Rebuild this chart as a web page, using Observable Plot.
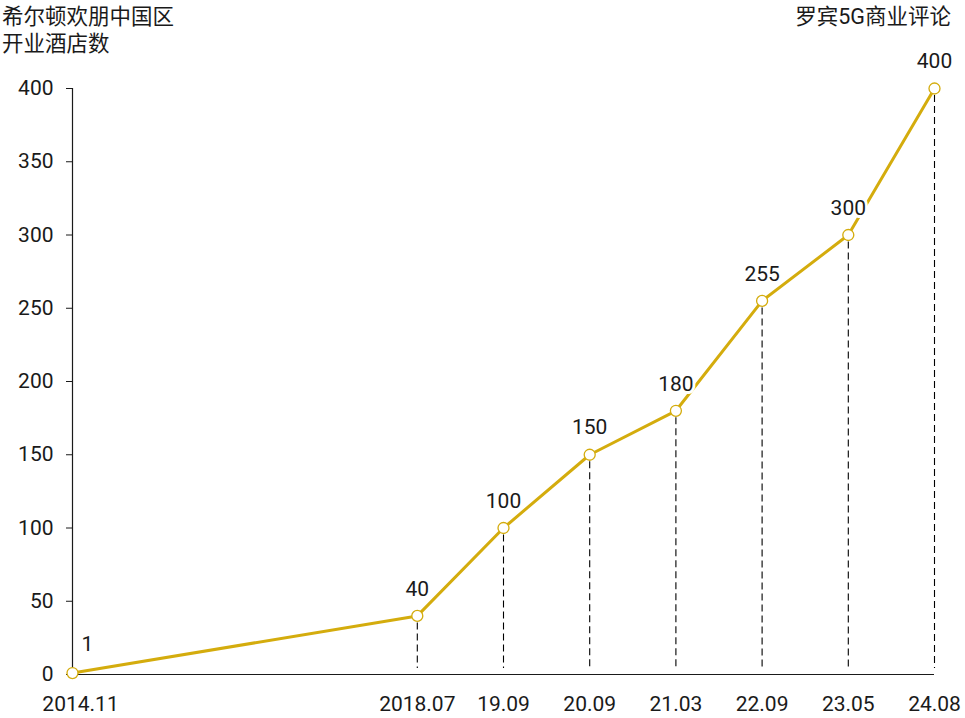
<!DOCTYPE html>
<html>
<head>
<meta charset="utf-8">
<script src="https://cdn.jsdelivr.net/npm/d3@7"></script>
<script src="https://cdn.jsdelivr.net/npm/@observablehq/plot@0.6"></script>
<style>
  body { margin: 0; background: #fff; font-family: Roboto, "Noto Sans CJK SC", sans-serif; }
  #wrap { width: 965px; }
  #header { position: relative; height: 50px; font-size: 21.5px; line-height: 27px; color: #1a1a1a; }
  #title { position: absolute; left: 2px; top: 3px; }
  #source { position: absolute; right: 14px; top: 3px; }
  svg { display: block; overflow: visible; }
</style>
</head>
<body>
<div id="wrap">
  <div id="header">
    <div id="title">希尔顿欢朋中国区<br>开业酒店数</div>
    <div id="source">罗宾5G商业评论</div>
  </div>
  <div id="chart"></div>
</div>
<script>
const dates = ["2014.11", "2018.07", "19.09", "20.09", "21.03", "22.09", "23.05", "24.08"];
const slots = [0, 4, 5, 6, 7, 8, 9, 10];
const hotels = [1, 40, 100, 150, 180, 255, 300, 400];
const yTicks = [0, 50, 100, 150, 200, 250, 300, 350, 400];

const data = dates.map((d, i) => ({date: d, slot: slots[i], value: hotels[i], first: i === 0}));
const gold = "#d4ac0d";
const fs = 21;

const chart = Plot.plot({
  width: 965,
  height: 668,
  marginLeft: 72,
  marginRight: 31,
  marginTop: 38,
  marginBottom: 44,
  style: {fontFamily: 'Roboto, "Noto Sans CJK SC", sans-serif', fontSize: fs + "px", color: "#1a1a1a", background: "#fff"},
  x: {type: "linear", domain: [0, 10], axis: null},
  y: {domain: [0, 400], axis: null},
  marks: [
    Plot.axisY({ticks: yTicks, tickSize: 6, tickPadding: 13, fontSize: fs, label: null, tickFormat: d => d, stroke: "#1a1a1a"}),
    Plot.ruleX([0], {y1: 0, y2: 400, stroke: "#1a1a1a", strokeWidth: 1.2}),
    Plot.ruleY([0], {x1: 0, x2: 10, stroke: "#1a1a1a", strokeWidth: 1.2}),
    Plot.ruleX(data.filter(d => !d.first), {x: "slot", y1: "value", y2: 0, insetTop: 7, insetBottom: 6, stroke: "#000", strokeWidth: 1.1, strokeDasharray: "7,4"}),
    Plot.text(data.filter(d => !d.first), {x: "slot", y: 0, text: "date", dy: 30, fontSize: fs, fill: "#1a1a1a"}),
    Plot.text(data.filter(d => d.first), {x: "slot", y: 0, text: "date", dy: 30, dx: 8, fontSize: fs, fill: "#1a1a1a"}),
    Plot.line(data, {x: "slot", y: "value", stroke: gold, strokeWidth: 3}),
    Plot.text(data.filter(d => !d.first), {x: "slot", y: "value", text: d => String(d.value), dy: -27, fontSize: fs, fill: "#1a1a1a", stroke: "#fff", strokeWidth: 6}),
    Plot.text(data.filter(d => d.first), {x: "slot", y: "value", text: d => String(d.value), dx: 15, dy: -29, fontSize: fs, fill: "#1a1a1a", stroke: "#fff", strokeWidth: 6}),
    Plot.dot(data, {x: "slot", y: "value", r: 5.5, fill: "#fff", stroke: gold, strokeWidth: 1.3})
  ]
});
document.getElementById("chart").appendChild(chart);
</script>
</body>
</html>
